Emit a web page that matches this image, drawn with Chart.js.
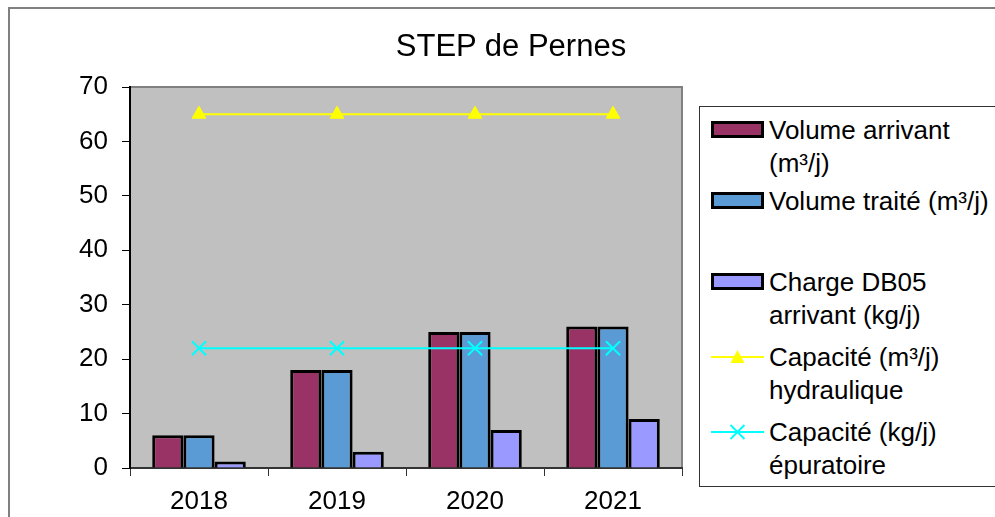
<!DOCTYPE html>
<html>
<head>
<meta charset="utf-8">
<script src="https://cdn.jsdelivr.net/npm/chart.js@4/dist/chart.umd.min.js"></script>
<style>
  html, body { margin: 0; padding: 0; background: #fff; overflow: hidden; }
  #wrap { position: relative; width: 995px; height: 517px; font-family: "Liberation Sans", Arial, sans-serif; }
  #frame { position: absolute; left: 8px; top: 7px; width: 1100px; height: 600px; border: 2px solid #808080; }
  #titre { position: absolute; left: 511px; top: 30px; transform: translateX(-50%); font-size: 31px; line-height: 31px; white-space: nowrap; color: #000; }
  #legende { position: absolute; left: 699px; top: 106px; width: 400px; height: 379px; border: 1px solid #333; background: #fff; }
  .item { position: absolute; left: 69px; font-size: 26px; line-height: 33px; color: #000; white-space: nowrap; }
  .sym { position: absolute; left: 11px; }
  canvas { position: absolute; left: 0; top: 0; }
</style>
</head>
<body>
<div id="wrap">
  <div id="frame"></div>
  <canvas id="chart" width="995" height="517"></canvas>
  <div id="titre">STEP de Pernes</div>
  <div id="legende"></div>
</div>
<script>
const annees = ['2018', '2019', '2020', '2021'];
const volumeArrivant = [6, 18, 25, 26];
const volumeTraite = [6, 18, 25, 26];
const chargeDBO5 = [1.2, 3, 7, 9];
const capaciteHydraulique = [65, 65, 65, 65];
const capaciteEpuratoire = [22, 22, 22, 22];

const police = "'Liberation Sans', Arial, sans-serif";

// fond gris + bord haut/droit de la zone de tracé
const fondZone = {
  id: 'fondZone',
  beforeDraw(chart) {
    const { ctx, chartArea: a } = chart;
    ctx.save();
    ctx.fillStyle = '#C0C0C0';
    ctx.fillRect(a.left, a.top, a.right - a.left, a.bottom - a.top);
    ctx.strokeStyle = '#808080';
    ctx.lineWidth = 2;
    ctx.beginPath();
    ctx.moveTo(a.left, a.top);
    ctx.lineTo(a.right, a.top);
    ctx.lineTo(a.right, a.bottom);
    ctx.stroke();
    ctx.restore();
  }
};

const barre = (label, data, couleur) => ({
  type: 'bar', label, data,
  backgroundColor: couleur,
  borderColor: '#000',
  borderWidth: 3,
  order: 1
});

new Chart(document.getElementById('chart'), {
  data: {
    labels: annees,
    datasets: [
      barre('Volume arrivant (m³/j)', volumeArrivant, '#993366'),
      barre('Volume traité (m³/j)', volumeTraite, '#5B9BD5'),
      barre('Charge DB05 arrivant (kg/j)', chargeDBO5, '#9999FF'),
      {
        type: 'line', label: 'Capacité (m³/j) hydraulique', data: capaciteHydraulique,
        borderColor: '#FFFF00', backgroundColor: '#FFFF00', borderWidth: 2,
        pointStyle: 'triangle', pointRadius: 8, pointBorderWidth: 1,
        pointBackgroundColor: '#FFFF00', pointBorderColor: '#FFFF00', order: 0
      },
      {
        type: 'line', label: 'Capacité (kg/j) épuratoire', data: capaciteEpuratoire,
        borderColor: '#00FFFF', backgroundColor: '#00FFFF', borderWidth: 2,
        pointStyle: 'crossRot', pointRadius: 10, pointBorderWidth: 2,
        pointBorderColor: '#00FFFF', order: 0
      }
    ]
  },
  options: {
    responsive: false,
    animation: false,
    layout: { padding: { left: 0, right: 313, top: 87, bottom: 0 } },
    datasets: { bar: { categoryPercentage: 0.678, barPercentage: 1 } },
    plugins: { legend: { display: false }, title: { display: false }, tooltip: { enabled: false } },
    scales: {
      x: {
        grid: { offset: true, drawOnChartArea: false, drawTicks: true, tickLength: 8, color: '#333' },
        border: { color: '#333', width: 2 },
        ticks: { font: { family: police, size: 26 }, color: '#000', padding: 10, maxRotation: 0 },
        afterFit(s) { s.height = 49; }
      },
      y: {
        min: 0, max: 70,
        ticks: { stepSize: 10, font: { family: police, size: 26 }, color: '#000', padding: 14 },
        grid: { drawOnChartArea: false, drawTicks: true, tickLength: 8, color: '#000' },
        border: { color: '#000', width: 2 },
        afterFit(s) { s.width = 130; }
      }
    }
  },
  plugins: [fondZone]
});

// légende à droite
const entrees = [
  { lignes: ['Volume arrivant', '(m³/j)'], top: 7, sym: 'rect', couleur: '#993366' },
  { lignes: ['Volume traité (m³/j)'], top: 78, sym: 'rect', couleur: '#5B9BD5' },
  { lignes: ['Charge DB05', 'arrivant (kg/j)'], top: 159, sym: 'rect', couleur: '#9999FF' },
  { lignes: ['Capacité (m³/j)', 'hydraulique'], top: 234, sym: 'tri', couleur: '#FFFF00' },
  { lignes: ['Capacité (kg/j)', 'épuratoire'], top: 309, sym: 'croix', couleur: '#00FFFF' }
];
const leg = document.getElementById('legende');
entrees.forEach(e => {
  const t = document.createElement('div');
  t.className = 'item';
  t.style.top = e.top + 'px';
  t.innerHTML = e.lignes.join('<br>');
  leg.appendChild(t);
  let svg;
  if (e.sym === 'rect') {
    svg = `<svg width="54" height="18"><rect x="1.5" y="1.5" width="50" height="14" fill="${e.couleur}" stroke="#000" stroke-width="3"/></svg>`;
  } else if (e.sym === 'tri') {
    svg = `<svg width="54" height="18"><line x1="0" y1="9" x2="53" y2="9" stroke="${e.couleur}" stroke-width="2"/><polygon points="26.5,2 33.5,15 19.5,15" fill="${e.couleur}"/></svg>`;
  } else {
    svg = `<svg width="54" height="18"><line x1="0" y1="9" x2="53" y2="9" stroke="${e.couleur}" stroke-width="2"/><path d="M19.5,2 L33.5,16 M33.5,2 L19.5,16" stroke="${e.couleur}" stroke-width="2"/></svg>`;
  }
  const s = document.createElement('div');
  s.className = 'sym';
  s.style.top = (e.top + 7) + 'px';
  s.innerHTML = svg;
  leg.appendChild(s);
});
</script>
</body>
</html>
